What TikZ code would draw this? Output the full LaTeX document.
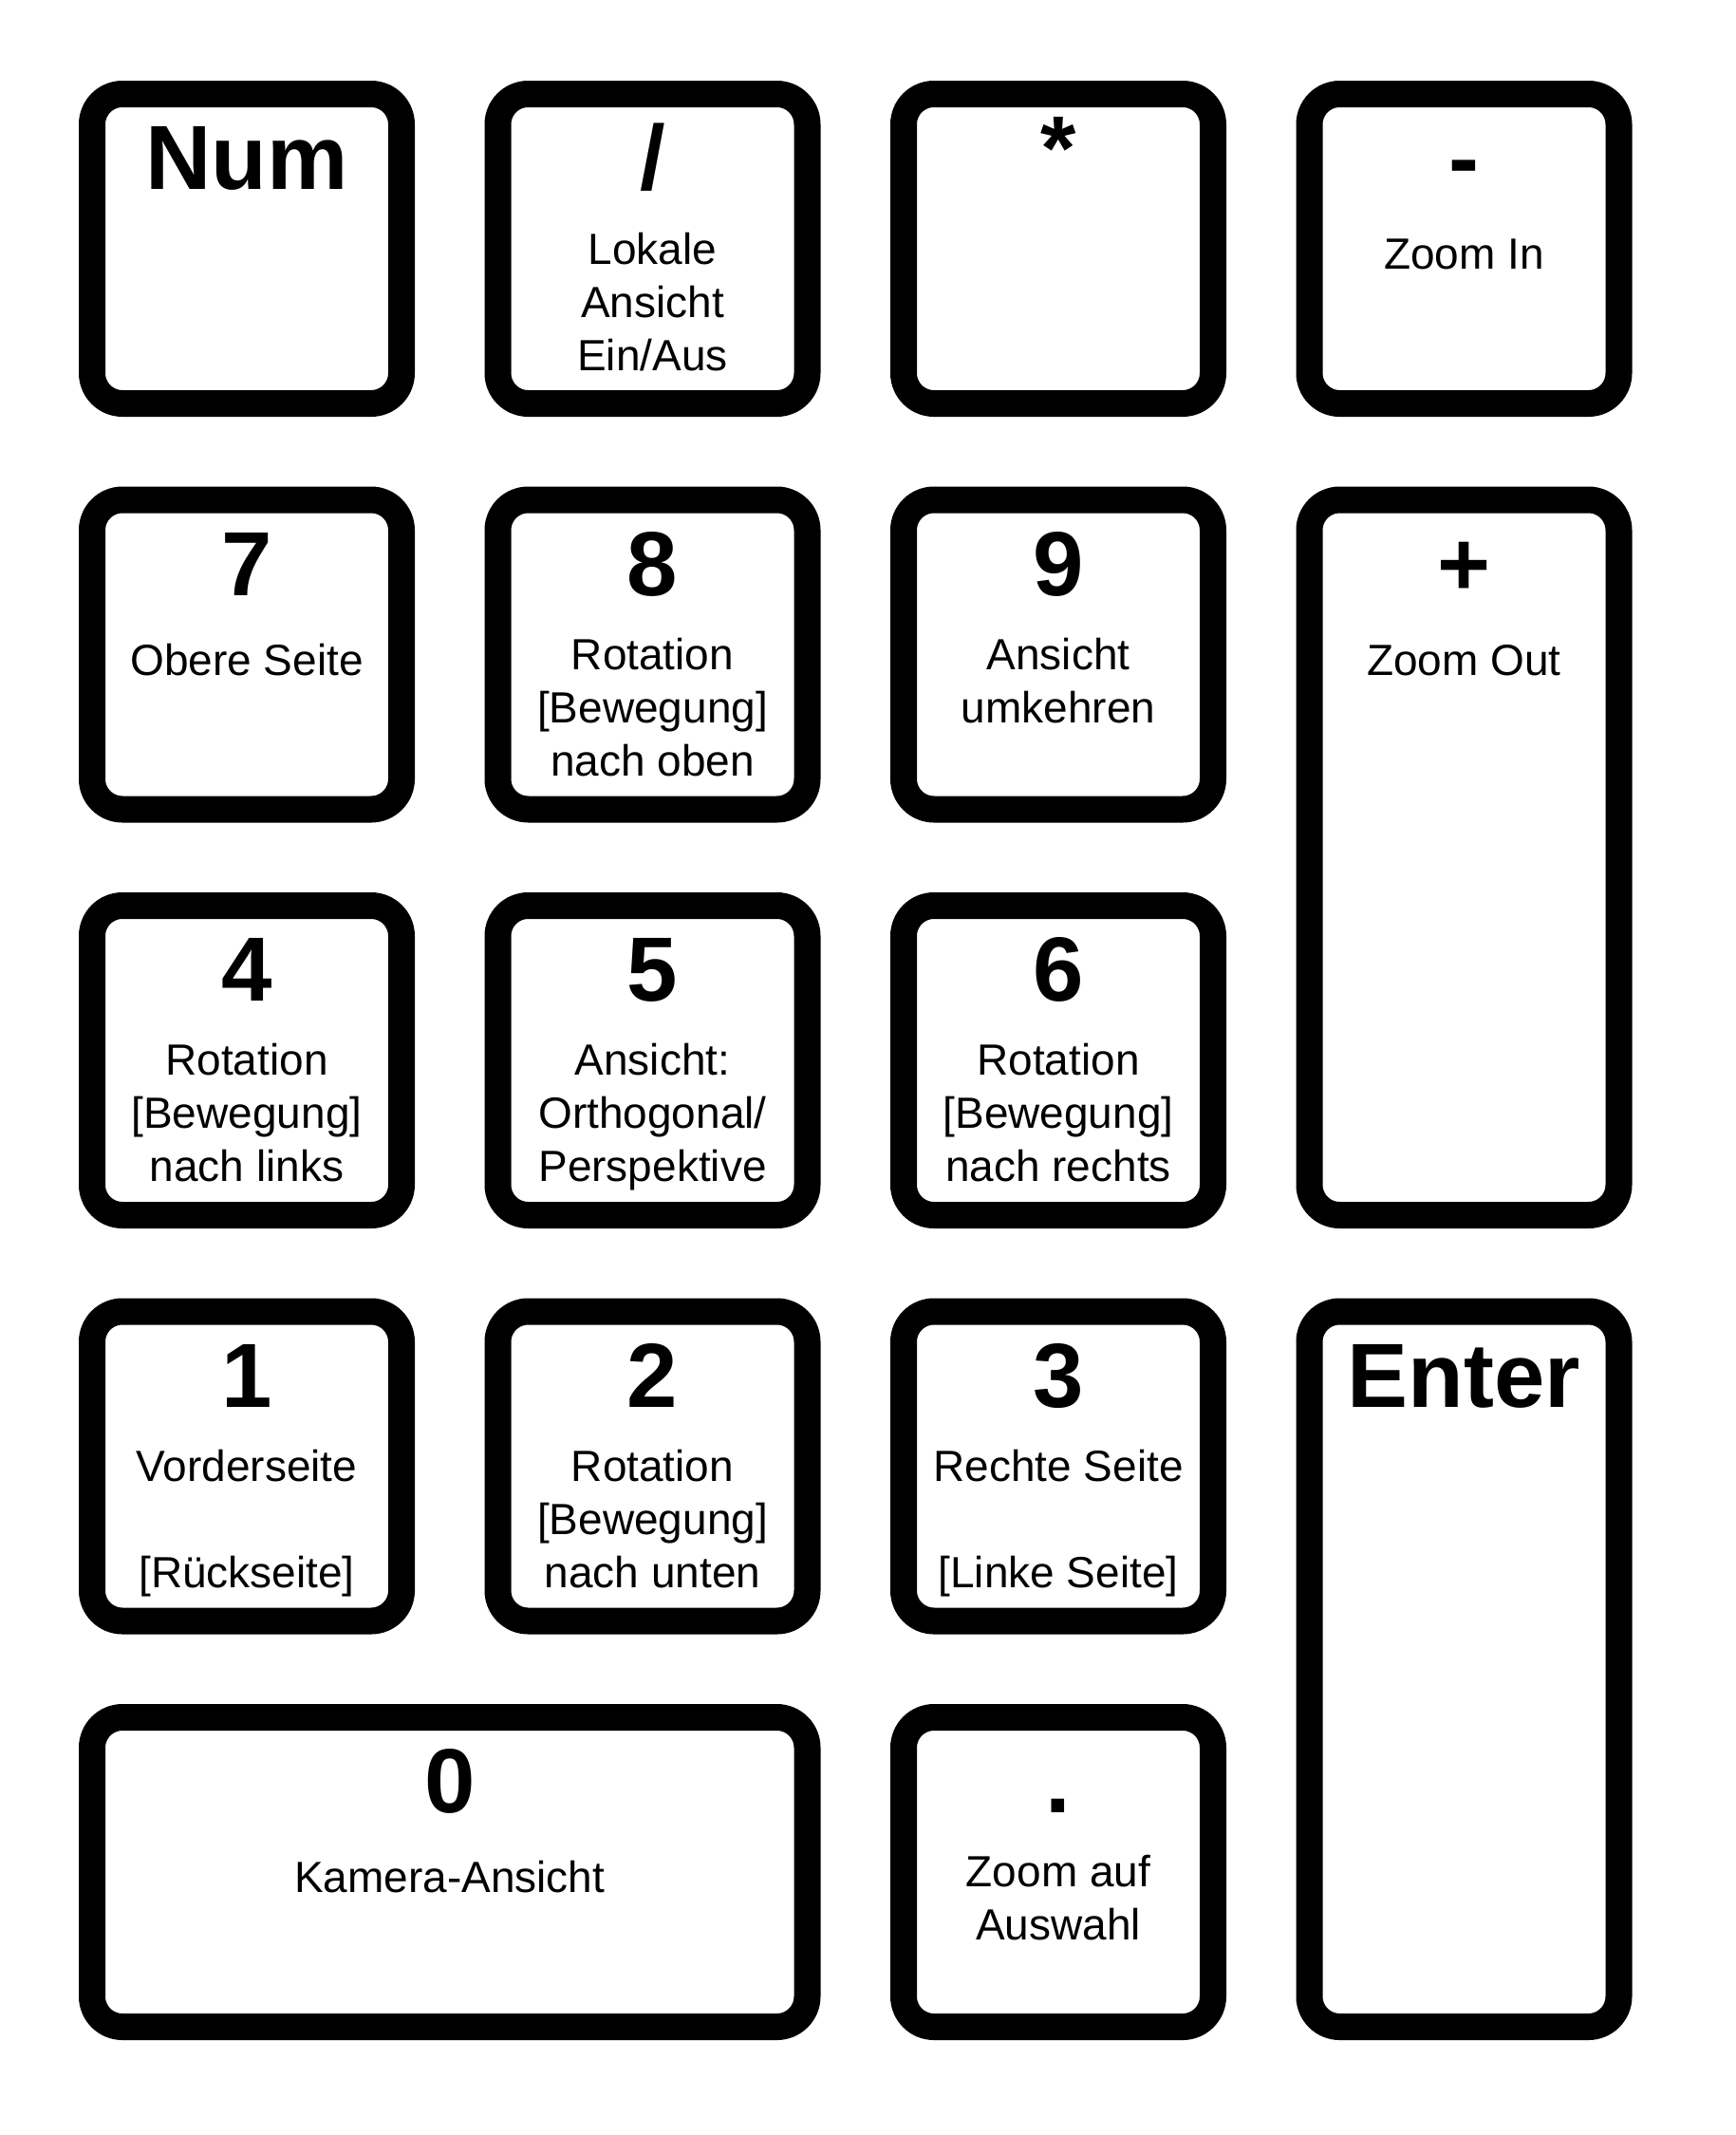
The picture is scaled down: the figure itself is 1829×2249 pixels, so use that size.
\documentclass[tikz,border=0pt]{standalone}
\usepackage{fontspec}
\setmainfont{Liberation Sans}

\begin{document}
\begin{tikzpicture}[x=0.5pt,y=-0.5pt,
  keybox/.style={line width=14pt, rounded corners=16pt},
  sym/.style={font=\fontsize{48}{56}\selectfont\bfseries, anchor=base, inner sep=0pt},
  lbl/.style={font=\fontsize{23}{28}\selectfont, align=center, anchor=north, inner sep=0pt, execute at begin node=\strut}]
\useasboundingbox (0,0) rectangle (1829,2249);

% Keys, row 1
\draw[keybox] (97,99) rectangle (423,425);
\draw[keybox] (524.5,99) rectangle (850.5,425);
\draw[keybox] (952,99) rectangle (1278,425);
\draw[keybox] (1379.5,99) rectangle (1705.5,425);
% Keys, rows 2 and 3
\draw[keybox] (97,526.5) rectangle (423,852.5);
\draw[keybox] (524.5,526.5) rectangle (850.5,852.5);
\draw[keybox] (952,526.5) rectangle (1278,852.5);
\draw[keybox] (1379.5,526.5) rectangle (1705.5,1280);
\draw[keybox] (97,954) rectangle (423,1280);
\draw[keybox] (524.5,954) rectangle (850.5,1280);
\draw[keybox] (952,954) rectangle (1278,1280);
% Keys, rows 4 and 5
\draw[keybox] (97,1381.5) rectangle (423,1707.5);
\draw[keybox] (524.5,1381.5) rectangle (850.5,1707.5);
\draw[keybox] (952,1381.5) rectangle (1278,1707.5);
\draw[keybox] (1379.5,1381.5) rectangle (1705.5,2135);
\draw[keybox] (97,1809) rectangle (850.5,2135);
\draw[keybox] (952,1809) rectangle (1278,2135);

% Symbols
\node[sym] (num) at (260,199.5) {Num};
\node[sym] (div) at (687.5,199.5) {/};
\node[sym] (mul) at (1115,189.5) {*};
\node[sym] (sub) at (1542.5,199.5) {-};
\node[sym] (n7) at (260,627) {7};
\node[sym] (n8) at (687.5,627) {8};
\node[sym] (n9) at (1115,627) {9};
\node[sym] (add) at (1542.5,627) {+};
\node[sym] (n4) at (260,1054.5) {4};
\node[sym] (n5) at (687.5,1054.5) {5};
\node[sym] (n6) at (1115,1054.5) {6};
\node[sym] (n1) at (260,1482) {1};
\node[sym] (n2) at (687.5,1482) {2};
\node[sym] (n3) at (1115,1482) {3};
\node[sym] (enter) at (1542.5,1482) {Enter};
\node[sym] (n0) at (473.75,1909.5) {0};
\node[sym] (dot) at (1115,1909.5) {.};

% Labels
\node[lbl] (tdiv) at (687.5,245) {Lokale\\Ansicht\\Ein/Aus};
\node[lbl] (tsub) at (1542.5,244) {Zoom In};
\node[lbl] (t7) at (260,671.5) {Obere Seite};
\node[lbl] (t8) at (687.5,671.5) {Rotation\\{}[Bewegung]\\nach oben};
\node[lbl] (t9) at (1115,671.5) {Ansicht\\umkehren};
\node[lbl] (tadd) at (1542.5,671.5) {Zoom Out};
\node[lbl] (t4) at (260,1099) {Rotation\\{}[Bewegung]\\nach links};
\node[lbl] (t5) at (687.5,1099) {Ansicht:\\Orthogonal/\\Perspektive};
\node[lbl] (t6) at (1115,1099) {Rotation\\{}[Bewegung]\\nach rechts};
\node[lbl] (t1) at (260,1526.5) {Vorderseite\\\strut\\{}[Rückseite]};
\node[lbl] (t2) at (687.5,1526.5) {Rotation\\{}[Bewegung]\\nach unten};
\node[lbl] (t3) at (1115,1526.5) {Rechte Seite\\\strut\\{}[Linke Seite]};
\node[lbl] (t0) at (473.75,1954) {Kamera-Ansicht};
\node[lbl] (tdot) at (1115,1954) {Zoom auf\\Auswahl};
\end{tikzpicture}
\end{document}
